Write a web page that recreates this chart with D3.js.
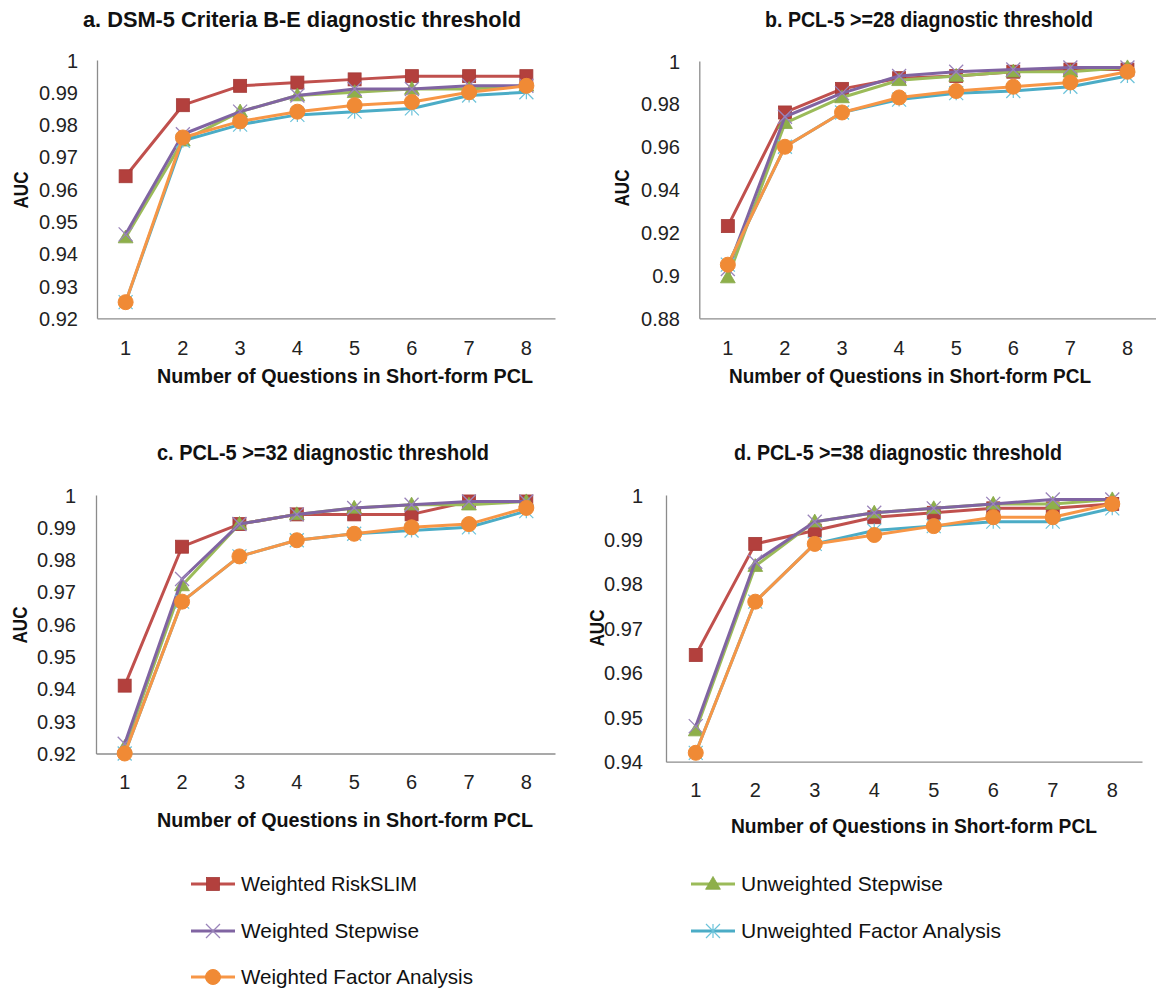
<!DOCTYPE html>
<html><head><meta charset="utf-8">
<script src="https://cdn.jsdelivr.net/npm/d3@7"></script>
<style>body{margin:0;background:#fff} svg{display:block}</style>
</head><body><svg id="chart" width="1156" height="996"></svg>
<script>
// ---------- DATA ----------
const questions = [1, 2, 3, 4, 5, 6, 7, 8];
const seriesNames = ["Weighted RiskSLIM", "Unweighted Stepwise", "Weighted Stepwise", "Unweighted Factor Analysis", "Weighted Factor Analysis"];
const panelTitles = ["a. DSM-5 Criteria B-E diagnostic threshold", "b. PCL-5 >=28 diagnostic threshold", "c. PCL-5 >=32 diagnostic threshold", "d. PCL-5 >=38 diagnostic threshold"];
const xAxisTitle = "Number of Questions in Short-form PCL";
const yAxisTitle = "AUC";

// panel a
const aRiskSLIM  = [0.964, 0.986, 0.992, 0.993, 0.994, 0.995, 0.995, 0.995];
const aUnwStep   = [0.945, 0.975, 0.984, 0.989, 0.990, 0.991, 0.991, 0.992];
const aWStep     = [0.946, 0.977, 0.984, 0.989, 0.991, 0.991, 0.992, 0.992];
const aUnwFA     = [0.925, 0.975, 0.980, 0.983, 0.984, 0.985, 0.989, 0.990];
const aWFA       = [0.925, 0.976, 0.981, 0.984, 0.986, 0.987, 0.990, 0.992];
// panel b
const bRiskSLIM  = [0.923, 0.976, 0.987, 0.992, 0.993, 0.995, 0.996, 0.996];
const bUnwStep   = [0.899, 0.971, 0.983, 0.991, 0.993, 0.995, 0.995, 0.997];
const bWStep     = [0.903, 0.974, 0.985, 0.993, 0.995, 0.996, 0.997, 0.997];
const bUnwFA     = [0.905, 0.960, 0.976, 0.982, 0.985, 0.986, 0.988, 0.993];
const bWFA       = [0.905, 0.960, 0.976, 0.983, 0.986, 0.988, 0.990, 0.995];
// panel c
const cRiskSLIM  = [0.941, 0.984, 0.991, 0.994, 0.994, 0.994, 0.998, 0.998];
const cUnwStep   = [0.922, 0.972, 0.991, 0.994, 0.996, 0.997, 0.997, 0.998];
const cWStep     = [0.923, 0.974, 0.991, 0.994, 0.996, 0.997, 0.998, 0.998];
const cUnwFA     = [0.920, 0.967, 0.981, 0.986, 0.988, 0.989, 0.990, 0.995];
const cWFA       = [0.920, 0.967, 0.981, 0.986, 0.988, 0.990, 0.991, 0.996];
// panel d
const dRiskSLIM  = [0.964, 0.989, 0.992, 0.995, 0.996, 0.997, 0.997, 0.998];
const dUnwStep   = [0.947, 0.984, 0.994, 0.996, 0.997, 0.998, 0.998, 0.999];
const dWStep     = [0.948, 0.985, 0.994, 0.996, 0.997, 0.998, 0.999, 0.999];
const dUnwFA     = [0.942, 0.976, 0.989, 0.992, 0.993, 0.994, 0.994, 0.997];
const dWFA       = [0.942, 0.976, 0.989, 0.991, 0.993, 0.995, 0.995, 0.998];

const yTicksA = [0.92, 0.93, 0.94, 0.95, 0.96, 0.97, 0.98, 0.99, 1];
const yTicksB = [0.88, 0.9, 0.92, 0.94, 0.96, 0.98, 1];
const yTicksC = [0.92, 0.93, 0.94, 0.95, 0.96, 0.97, 0.98, 0.99, 1];
const yTicksD = [0.94, 0.95, 0.96, 0.97, 0.98, 0.99, 1];

// ---------- STYLE / LAYOUT ----------
const lineColors   = ["#C0504D", "#9BBB59", "#8064A2", "#4BACC6", "#F79646"];
const markerFill   = ["#B3403D", "#8EAF4A", "none", "none", "#F08A35"];
const markerKinds  = ["square", "triangle", "x", "star", "circle"];
const wordFont = "'Liberation Sans Narrow','Liberation Sans',Arial,sans-serif";
const numFont = "'Liberation Sans',Arial,sans-serif";

const panels = [
  {title: panelTitles[0], series: [aRiskSLIM, aUnwStep, aWStep, aUnwFA, aWFA], ticks: yTicksA,
   x0: 97, x1: 555, y0: 60, y1: 318.3, tickRight: 78, tickY: 348, aucX: 21, aucY: 190,
   titleX: 302, titleY: 19, titleW: 438, xtX: 345, xtY: 376, xtW: 376},
  {title: panelTitles[1], series: [bRiskSLIM, bUnwStep, bWStep, bUnwFA, bWFA], ticks: yTicksB,
   x0: 699.3, x1: 1156, y0: 61, y1: 318.3, tickRight: 680, tickY: 348, aucX: 622, aucY: 188,
   titleX: 929, titleY: 19, titleW: 328, xtX: 910, xtY: 376, xtW: 362},
  {title: panelTitles[2], series: [cRiskSLIM, cUnwStep, cWStep, cUnwFA, cWFA], ticks: yTicksC,
   x0: 96, x1: 555, y0: 495, y1: 753.5, tickRight: 76, tickY: 782, aucX: 20, aucY: 625,
   titleX: 323, titleY: 452, titleW: 332, xtX: 345, xtY: 820, xtW: 376},
  {title: panelTitles[3], series: [dRiskSLIM, dUnwStep, dWStep, dUnwFA, dWFA], ticks: yTicksD,
   x0: 666, x1: 1142, y0: 495, y1: 761.7, tickRight: 643, tickY: 790, aucX: 597, aucY: 628,
   titleX: 898, titleY: 452, titleW: 328, xtX: 914, xtY: 826, xtW: 366}
];

const svg = d3.select("#chart");

function drawMarker(g, kind, i, x, y) {
  const s = 7;
  if (kind === "square") {
    g.append("rect").attr("x", x - 6.5).attr("y", y - 6.5).attr("width", 13).attr("height", 13)
      .attr("fill", markerFill[i]).attr("stroke", "#A33A37").attr("stroke-width", 0.8);
  } else if (kind === "triangle") {
    g.append("path").attr("d", d3.symbol(d3.symbolTriangle, 95)()).attr("transform", `translate(${x},${y + 1})`)
      .attr("fill", markerFill[i]).attr("stroke", "#86A848").attr("stroke-width", 0.8);
  } else if (kind === "circle") {
    g.append("circle").attr("cx", x).attr("cy", y).attr("r", 7.5).attr("fill", markerFill[i]).attr("stroke", "#F08A35");
  } else if (kind === "x") {
    g.append("path").attr("d", `M${x - s},${y - s}L${x + s},${y + s}M${x - s},${y + s}L${x + s},${y - s}`)
      .attr("stroke", "#9A84BA").attr("stroke-width", 1.3).attr("fill", "none");
  } else if (kind === "star") {
    g.append("path").attr("d", `M${x - s},${y - s}L${x + s},${y + s}M${x - s},${y + s}L${x + s},${y - s}M${x},${y - s}L${x},${y + s}`)
      .attr("stroke", "#6CC3DA").attr("stroke-width", 1.2).attr("fill", "none");
  }
}

panels.forEach(p => {
  const x = d3.scaleBand().domain(questions).range([p.x0, p.x1]);
  const y = d3.scaleLinear().domain([p.ticks[0], p.ticks[p.ticks.length - 1]]).range([p.y1, p.y0]);
  const cx = q => x(q) + x.bandwidth() / 2;
  const g = svg.append("g");

  const yAxis = d3.axisLeft(y).tickValues(p.ticks).tickSize(0).tickPadding(0).tickFormat(v => String(+v.toFixed(2)));
  const ya = g.append("g").attr("transform", `translate(${p.x0},0)`).call(yAxis);
  ya.select(".domain").attr("stroke", "#8C8C8C").attr("stroke-width", 1.3);
  ya.selectAll("text").attr("x", p.tickRight - p.x0).attr("dy", "0.35em").attr("font-family", numFont)
    .attr("font-size", 20).attr("fill", "#222").attr("text-anchor", "end");

  const xAxis = d3.axisBottom(x).tickSize(0).tickPadding(0);
  const xa = g.append("g").attr("transform", `translate(0,${p.y1})`).call(xAxis);
  xa.select(".domain").attr("stroke", "#8C8C8C").attr("stroke-width", 1.3);
  xa.selectAll("text").attr("y", p.tickY - p.y1).attr("dy", "0.35em").attr("font-family", numFont)
    .attr("font-size", 20).attr("fill", "#222");

  const line = d3.line().x((d, i) => cx(questions[i])).y(d => y(d));
  p.series.forEach((vals, si) => {
    const sg = g.append("g");
    sg.append("path").datum(vals).attr("d", line).attr("fill", "none")
      .attr("stroke", lineColors[si]).attr("stroke-width", 3).attr("stroke-linejoin", "round");
    vals.forEach((v, i) => drawMarker(sg, markerKinds[si], si, cx(questions[i]), y(v)));
  });

  g.append("text").attr("x", p.titleX).attr("y", p.titleY).attr("dy", "0.35em").attr("text-anchor", "middle")
    .attr("font-family", wordFont).attr("font-weight", "bold").attr("font-size", 22).attr("fill", "#111")
    .attr("textLength", p.titleW).attr("lengthAdjust", "spacingAndGlyphs").text(p.title);
  g.append("text").attr("x", p.xtX).attr("y", p.xtY).attr("dy", "0.35em").attr("text-anchor", "middle")
    .attr("font-family", wordFont).attr("font-weight", "bold").attr("font-size", 21).attr("fill", "#111")
    .attr("textLength", p.xtW).attr("lengthAdjust", "spacingAndGlyphs").text(xAxisTitle);
  g.append("text").attr("transform", `translate(${p.aucX},${p.aucY}) rotate(-90)`).attr("dy", "0.35em")
    .attr("text-anchor", "middle").attr("font-family", wordFont).attr("font-weight", "bold").attr("font-size", 21)
    .attr("fill", "#111").attr("textLength", 37).attr("lengthAdjust", "spacingAndGlyphs").text(yAxisTitle);
});

const legendPos = [
  {x: 191, y: 884, w: 176}, {x: 691, y: 884, w: 202},
  {x: 191, y: 931, w: 178}, {x: 691, y: 931, w: 260},
  {x: 191, y: 977, w: 232}
];
seriesNames.forEach((name, si) => {
  const lp = legendPos[si];
  const lg = svg.append("g");
  lg.append("line").attr("x1", lp.x).attr("x2", lp.x + 44).attr("y1", lp.y).attr("y2", lp.y)
    .attr("stroke", lineColors[si]).attr("stroke-width", 3);
  drawMarker(lg, markerKinds[si], si, lp.x + 22, lp.y);
  lg.append("text").attr("x", lp.x + 50).attr("y", lp.y).attr("dy", "0.35em").attr("font-family", wordFont)
    .attr("font-size", 21).attr("fill", "#111").attr("textLength", lp.w).attr("lengthAdjust", "spacingAndGlyphs").text(name);
});
</script></body></html>
